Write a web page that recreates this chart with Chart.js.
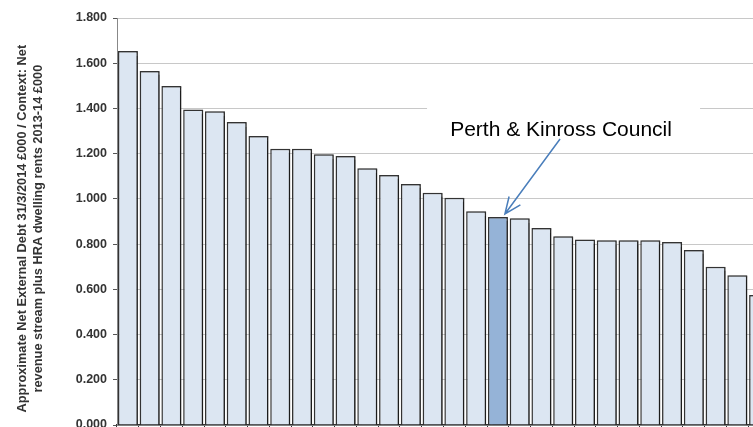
<!DOCTYPE html>
<html>
<head>
<meta charset="utf-8">
<script src="https://cdn.jsdelivr.net/npm/chart.js@4"></script>
<style>
  body { margin: 0; background: #fff; overflow: hidden; }
  #wrap { width: 770px; height: 427px; }
</style>
</head>
<body>
<div id="wrap"><canvas id="grafico" width="770" height="427"></canvas></div>
<script>
// councils in rank order, names are not shown on the axis
const consejos = ['C01', 'C02', 'C03', 'C04', 'C05', 'C06', 'C07', 'C08', 'C09', 'C10',
    'C11', 'C12', 'C13', 'C14', 'C15', 'C16', 'C17', 'Perth & Kinross Council', 'C19', 'C20',
    'C21', 'C22', 'C23', 'C24', 'C25', 'C26', 'C27', 'C28', 'C29', 'C30'];
const valores = [1.654, 1.566, 1.499, 1.395, 1.388, 1.340, 1.278, 1.222, 1.222, 1.197,
    1.190, 1.135, 1.106, 1.066, 1.027, 1.005, 0.945, 0.920, 0.914, 0.871,
    0.835, 0.820, 0.817, 0.817, 0.817, 0.809, 0.774, 0.700, 0.662, 0.575];
const marcasY = [0, 0.2, 0.4, 0.6, 0.8, 1.0, 1.2, 1.4, 1.6, 1.8];
const destacado = 'Perth & Kinross Council';

const fuente = '"Liberation Sans", Arial, sans-serif';
const idx = consejos.indexOf(destacado);

// white box behind the label, then label + arrow on top
const anotacion = {
    id: 'anotacion',
    beforeDatasetsDraw(chart) {
        const { ctx, scales: { x, y } } = chart;
        const cx = x.getPixelForValue(19.9);
        const cy = y.getPixelForValue(1.278);
        ctx.save();
        ctx.fillStyle = '#fff';
        ctx.fillRect(cx - 134, cy - 36, 273, 48);
        // sombra de las barras
        ctx.shadowColor = 'rgba(0,0,0,0.45)';
        ctx.shadowOffsetX = 1.5;
        ctx.shadowOffsetY = 0.5;
        ctx.shadowBlur = 1;
    },
    afterDatasetsDraw(chart) {
        chart.ctx.restore();
    },
    afterDraw(chart) {
        const { ctx, scales: { x, y } } = chart;
        const cx = x.getPixelForValue(19.9);
        const cy = y.getPixelForValue(1.278);
        ctx.save();
        ctx.fillStyle = '#000';
        ctx.font = '21px ' + fuente;
        ctx.textAlign = 'center';
        ctx.textBaseline = 'alphabetic';
        ctx.fillText(destacado, cx, cy);

        const x0 = cx - 1, y0 = cy + 3;
        const x1 = x.getPixelForValue(idx) + 7;
        const y1 = y.getPixelForValue(valores[idx]) - 3;
        const ang = Math.atan2(y1 - y0, x1 - x0);
        ctx.strokeStyle = '#4a7ebb';
        ctx.lineWidth = 1.5;
        ctx.beginPath();
        ctx.moveTo(x0, y0);
        ctx.lineTo(x1, y1);
        const len = 18;
        ctx.moveTo(x1 - len * Math.cos(ang - 0.4), y1 - len * Math.sin(ang - 0.4));
        ctx.lineTo(x1, y1);
        ctx.lineTo(x1 - len * Math.cos(ang + 0.4), y1 - len * Math.sin(ang + 0.4));
        ctx.stroke();
        ctx.restore();
    }
};

const ctx = document.getElementById('grafico').getContext('2d');
new Chart(ctx, {
    type: 'bar',
    data: {
        labels: consejos,
        datasets: [{
            data: valores,
            backgroundColor: consejos.map(c => c === destacado ? '#95b3d7' : '#dce6f2'),
            borderColor: '#333',
            borderWidth: 1.5,
            barPercentage: 0.92,
            categoryPercentage: 1
        }]
    },
    options: {
        responsive: false,
        animation: false,
        layout: { padding: { top: 18, left: 0, right: 0, bottom: 0 } },
        plugins: {
            legend: { display: false },
            tooltip: { enabled: false }
        },
        scales: {
            x: {
                ticks: { display: false },
                grid: { drawOnChartArea: false, tickLength: 4, color: '#333', offset: true },
                border: { color: '#333', width: 1.5 },
                afterFit: s => { s.height = 2; }
            },
            y: {
                min: 0,
                max: 1.8,
                afterBuildTicks: s => { s.ticks = marcasY.map(v => ({ value: v })); },
                ticks: {
                    padding: 6,
                    color: '#333',
                    font: { family: fuente, size: 12.5, weight: 'bold' },
                    callback: v => v.toFixed(3)
                },
                grid: { color: '#c8c8c8', tickLength: 4, tickColor: '#555' },
                border: { color: '#888' },
                title: {
                    display: true,
                    // trailing spaces nudge the rotated title a little lower
                    text: ['Approximate Net External Debt 31/3/2014 £000 / Context: Net    ',
                        'revenue stream plus HRA dwelling rents 2013-14 £000    '],
                    color: '#333',
                    font: { family: fuente, size: 12.8, weight: 'bold', lineHeight: 1.2 },
                    padding: { top: 15, bottom: 0 }
                },
                afterFit: s => {
                    s.width = 117;
                    s.paddingTop = 0;
                    s.paddingBottom = 0;
                }
            }
        }
    },
    plugins: [anotacion]
});
</script>
</body>
</html>
